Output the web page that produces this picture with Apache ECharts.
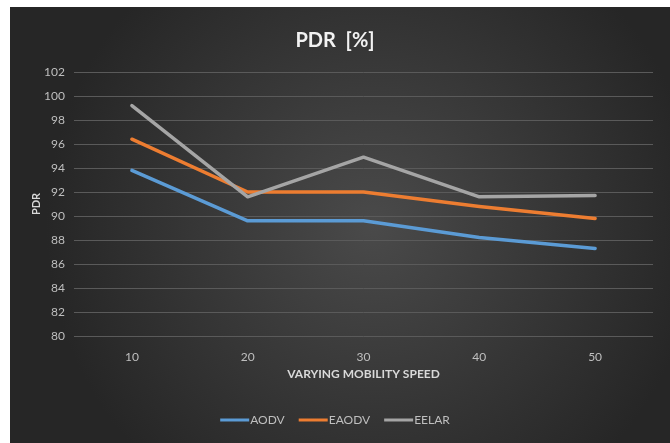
<!DOCTYPE html>
<html><head><meta charset="utf-8">
<script src="https://cdn.jsdelivr.net/npm/echarts@6/dist/echarts.min.js"></script>
<style>html,body{margin:0;padding:0;background:#fff;}#c{width:670px;height:443px;}</style>
</head><body><div id="c"></div>
<script>
const categories = ['10', '20', '30', '40', '50'];
const aodv = [93.8, 89.6, 89.6, 88.2, 87.3];
const eaodv = [96.4, 92.0, 92.0, 90.8, 89.8];
const eelar = [99.2, 91.6, 94.9, 91.6, 91.7];
const seriesNames = ['AODV', 'EAODV', 'EELAR'];
const colors = ['#5b9bd5', '#ed7d31', '#a5a5a5'];

const chart = echarts.init(document.getElementById('c'));
const font = 'Lato, "Open Sans", sans-serif';
chart.setOption({
  backgroundColor: '#ffffff',
  animation: false,
  graphic: [{
    type: 'rect', z: -10, silent: true,
    shape: {x: 10, y: 7, width: 660, height: 436},
    style: {fill: new echarts.graphic.RadialGradient(0.55, 0.5, 0.75, [
      {offset: 0, color: '#4a4a4a'}, {offset: 1, color: '#262626'}])}
  }],
  title: {text: 'PDR  [%]', left: 'center', top: 26,
    textStyle: {color: '#f2f2f2', fontSize: 20, fontWeight: 'bold', fontFamily: font}},
  grid: {left: 74, right: 17, top: 72, bottom: 107},
  legend: {bottom: 12, left: 'center', itemWidth: 29, itemHeight: 3, itemGap: 14,
    icon: 'rect', textStyle: {color: '#bfbfbf', fontSize: 12, fontFamily: font, padding: [0,0,0,-4]},
    data: seriesNames},
  xAxis: {type: 'category', data: categories, boundaryGap: true,
    name: 'VARYING MOBILITY SPEED', nameLocation: 'middle', nameGap: 30,
    nameTextStyle: {color: '#d9d9d9', fontSize: 12, fontWeight: 'bold', fontFamily: font},
    axisLine: {show: false}, axisTick: {show: false},
    axisLabel: {color: '#bfbfbf', fontSize: 12, fontFamily: font, margin: 15}},
  yAxis: {type: 'value', min: 80, max: 102, interval: 2,
    name: 'PDR', nameLocation: 'middle', nameGap: 32, nameRotate: 90, nameMoveOverlap: false,
    nameTextStyle: {color: '#d9d9d9', fontSize: 11, fontWeight: 'bold', fontFamily: font},
    axisLine: {show: false}, axisTick: {show: false},
    axisLabel: {color: '#bfbfbf', fontSize: 12, fontFamily: font, margin: 9},
    splitLine: {lineStyle: {color: '#5a5a5a', width: 1}}},
  series: [
    {name: seriesNames[0], type: 'line', data: aodv},
    {name: seriesNames[1], type: 'line', data: eaodv},
    {name: seriesNames[2], type: 'line', data: eelar}
  ].map((s, i) => Object.assign(s, {
    color: colors[i], showSymbol: false, symbol: 'none',
    lineStyle: {width: 3.5, color: colors[i], cap: 'round', join: 'round'}
  }))
});
</script></body></html>
